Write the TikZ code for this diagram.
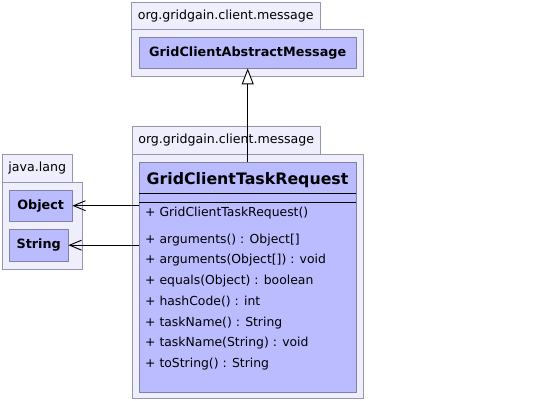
\documentclass[tikz,border=0pt]{standalone}
\usepackage{fontspec}
\setmainfont{DejaVu Sans}
\usetikzlibrary{arrows.meta, positioning}
\definecolor{pkgfill}{RGB}{238,238,252}
\definecolor{pkgline}{RGB}{150,150,175}
\definecolor{clsfill}{RGB}{187,187,255}
\definecolor{clsline}{RGB}{130,130,165}

\begin{document}
\begin{tikzpicture}[
    x=1pt, y=-1pt,
    pkgtab/.style={rectangle, draw=pkgline, fill=pkgfill, anchor=north west, inner sep=0pt, font=\fontsize{12.6}{14}\selectfont},
    pkgbody/.style={rectangle, draw=pkgline, fill=pkgfill, anchor=north west, inner sep=0pt},
    classbox/.style={rectangle, draw=clsline, fill=clsfill, anchor=north west, inner sep=0pt, font=\fontsize{12.8}{14}\selectfont\bfseries},
    member/.style={anchor=west, inner sep=0pt, font=\fontsize{12.4}{14}\selectfont},
    uses/.style={-{Straight Barb[length=12pt, width=10pt]}, line width=0.9pt},
    extends/.style={-{Triangle[open, length=16pt, width=12pt, fill=white]}, line width=0.9pt},
]
    \useasboundingbox (0,0) rectangle (559,401);

    % Packages
    \node[pkgtab, minimum width=189pt, minimum height=27pt] (tabtop) at (131,2) {org.gridgain.client.message};
    \node[pkgbody, minimum width=232pt, minimum height=47pt] (pkgtop) at (131,29) {};
    \node[pkgtab, minimum width=188pt, minimum height=28pt] (tabmid) at (132,126) {org.gridgain.client.message};
    \node[pkgbody, minimum width=231pt, minimum height=244pt] (pkgmid) at (132,154) {};
    \node[pkgtab, minimum width=70pt, minimum height=28pt] (tablang) at (2,154) {java.lang};
    \node[pkgbody, minimum width=80pt, minimum height=87pt] (pkglang) at (2,182) {};

    % Classes
    \node[classbox, minimum width=217pt, minimum height=31pt] (absmsg) at (139,37) {GridClientAbstractMessage};
    \node[classbox, minimum width=63pt, minimum height=31pt] (obj) at (9,190) {Object};
    \node[classbox, minimum width=59pt, minimum height=32pt] (str) at (9,229) {String};
    \node[classbox, minimum width=217pt, minimum height=230pt] (req) at (139,162) {};
    \node[font=\fontsize{15.8}{18}\selectfont\bfseries] (reqname) at (247.5,180) {GridClientTaskRequest};
    \draw[line width=0.9pt] (req.west |- 0,193) -- (req.east |- 0,193);
    \draw[line width=0.9pt] (req.west |- 0,202) -- (req.east |- 0,202);

    % Members
    \node[member] (m0) at (145,213) {+ GridClientTaskRequest()};
    \node[member] (m1) at (145,240) {+ arguments() : Object[]};
    \node[member] (m2) at (145,260) {+ arguments(Object[]) : void};
    \node[member] (m3) at (145,281) {+ equals(Object) : boolean};
    \node[member] (m4) at (145,302) {+ hashCode() : int};
    \node[member] (m5) at (145,323) {+ taskName() : String};
    \node[member] (m6) at (145,343) {+ taskName(String) : void};
    \node[member] (m7) at (145,364) {+ toString() : String};

    % Relations
    \draw[extends] (req.north) -- (absmsg.south);
    \draw[uses] (obj.east -| req.west) -- (obj.east);
    \draw[uses] (str.east -| req.west) -- (str.east);
\end{tikzpicture}
\end{document}
